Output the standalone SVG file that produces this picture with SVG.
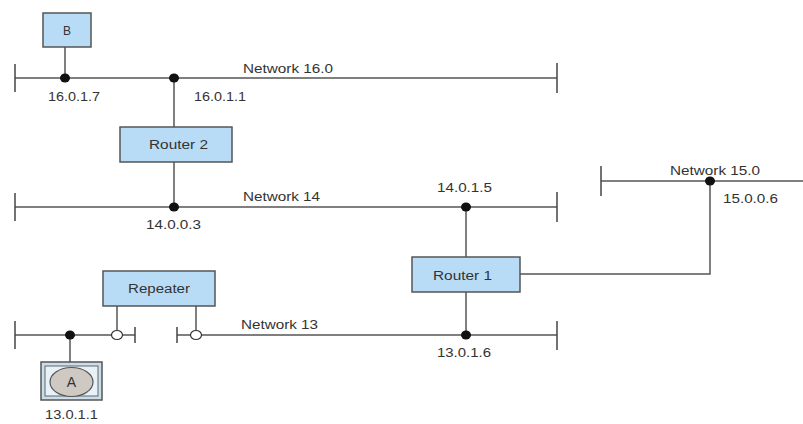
<svg xmlns="http://www.w3.org/2000/svg" width="803" height="424" viewBox="0 0 803 424">
<defs>
<style>
.ln{stroke:#555;stroke-width:1.5;fill:none}
.tk{stroke:#444;stroke-width:1.5}
.box{fill:#b8dcf5;stroke:#555;stroke-width:1.5}
.dot{fill:#111}
.oc{fill:#fff;stroke:#333;stroke-width:1.2}
.t{font-family:"Liberation Sans",Arial,sans-serif;font-size:12px;fill:#333}
.c{text-anchor:middle}
</style>
</defs>
<rect width="803" height="424" fill="#fff"/>
<g id="connectors">
<line class="ln" x1="15" y1="78" x2="557" y2="78"/>
<line class="tk" x1="15" y1="64" x2="15" y2="92"/>
<line class="tk" x1="557" y1="63" x2="557" y2="93"/>
<line class="ln" x1="65" y1="47" x2="65" y2="78"/>
<line class="ln" x1="174" y1="78" x2="174" y2="127"/>
<line class="ln" x1="15" y1="207" x2="557" y2="207"/>
<line class="tk" x1="15" y1="193" x2="15" y2="221"/>
<line class="tk" x1="557" y1="192" x2="557" y2="222"/>
<line class="ln" x1="174" y1="162" x2="174" y2="207"/>
<line class="ln" x1="466" y1="207" x2="466" y2="257"/>
<line class="ln" x1="466" y1="292" x2="466" y2="335"/>
<line class="ln" x1="601" y1="181" x2="803" y2="181"/>
<line class="tk" x1="601" y1="166" x2="601" y2="196"/>
<polyline class="ln" points="520,274 710,274 710,181"/>
<line class="ln" x1="15" y1="335" x2="135" y2="335"/>
<line class="tk" x1="15" y1="321" x2="15" y2="349"/>
<line class="tk" x1="135" y1="327" x2="135" y2="343"/>
<line class="ln" x1="177" y1="335" x2="557" y2="335"/>
<line class="tk" x1="177" y1="327" x2="177" y2="343"/>
<line class="tk" x1="557" y1="321" x2="557" y2="350"/>
<line class="ln" x1="117" y1="306" x2="117" y2="330"/>
<line class="ln" x1="196" y1="306" x2="196" y2="330"/>
<line class="ln" x1="70" y1="335" x2="70" y2="362"/>
<ellipse class="oc" cx="117" cy="335" rx="5.5" ry="4.5"/>
<ellipse class="oc" cx="196" cy="335" rx="5.5" ry="4.5"/>
<ellipse class="dot" cx="65" cy="78" rx="5" ry="4.5"/>
<ellipse class="dot" cx="174" cy="78" rx="5" ry="4.5"/>
<ellipse class="dot" cx="174" cy="207" rx="5" ry="4.5"/>
<ellipse class="dot" cx="466" cy="207" rx="5" ry="4.5"/>
<ellipse class="dot" cx="466" cy="335" rx="5" ry="4.5"/>
<ellipse class="dot" cx="710" cy="181" rx="5" ry="4.5"/>
<ellipse class="dot" cx="70" cy="335" rx="5" ry="4.5"/>
</g>
<g id="labels">
<text class="t" x="243" y="73" textLength="90" lengthAdjust="spacingAndGlyphs">Network 16.0</text>
<text class="t" x="48" y="101" textLength="52" lengthAdjust="spacingAndGlyphs">16.0.1.7</text>
<text class="t" x="194" y="101" textLength="52" lengthAdjust="spacingAndGlyphs">16.0.1.1</text>
<text class="t" x="243" y="201" textLength="77" lengthAdjust="spacingAndGlyphs">Network 14</text>
<text class="t" x="146" y="229" textLength="55" lengthAdjust="spacingAndGlyphs">14.0.0.3</text>
<text class="t" x="437" y="192" textLength="55" lengthAdjust="spacingAndGlyphs">14.0.1.5</text>
<text class="t" x="670" y="175" textLength="90" lengthAdjust="spacingAndGlyphs">Network 15.0</text>
<text class="t" x="723" y="203" textLength="55" lengthAdjust="spacingAndGlyphs">15.0.0.6</text>
<text class="t" x="241" y="329" textLength="77" lengthAdjust="spacingAndGlyphs">Network 13</text>
<text class="t" x="437" y="357" textLength="54" lengthAdjust="spacingAndGlyphs">13.0.1.6</text>
<text class="t" x="45" y="419" textLength="53" lengthAdjust="spacingAndGlyphs">13.0.1.1</text>
</g>
<g id="B">
<rect class="box" x="43" y="13" width="48" height="34"/>
<text class="t c" x="67" y="35">B</text>
</g>
<g id="router2">
<rect class="box" x="120" y="127" width="112" height="35"/>
<text class="t" x="149" y="149" textLength="59" lengthAdjust="spacingAndGlyphs">Router 2</text>
</g>
<g id="router1">
<rect class="box" x="412" y="257" width="108" height="35"/>
<text class="t" x="433" y="280" textLength="59" lengthAdjust="spacingAndGlyphs">Router 1</text>
</g>
<g id="repeater">
<rect class="box" x="103" y="271" width="112" height="35"/>
<text class="t" x="128" y="293" textLength="62" lengthAdjust="spacingAndGlyphs">Repeater</text>
</g>
<g id="A">
<rect x="41" y="362" width="61" height="38" fill="#c9ddea" stroke="#555" stroke-width="1.5"/>
<rect x="45" y="366" width="53" height="30" fill="#e8f1f8" stroke="#666" stroke-width="1"/>
<ellipse cx="71.5" cy="382" rx="21.5" ry="14.5" fill="#cfc9c3" stroke="#555" stroke-width="1.2"/>
<text class="t c" x="71.5" y="387" style="font-size:14px">A</text>
</g>
</svg>
